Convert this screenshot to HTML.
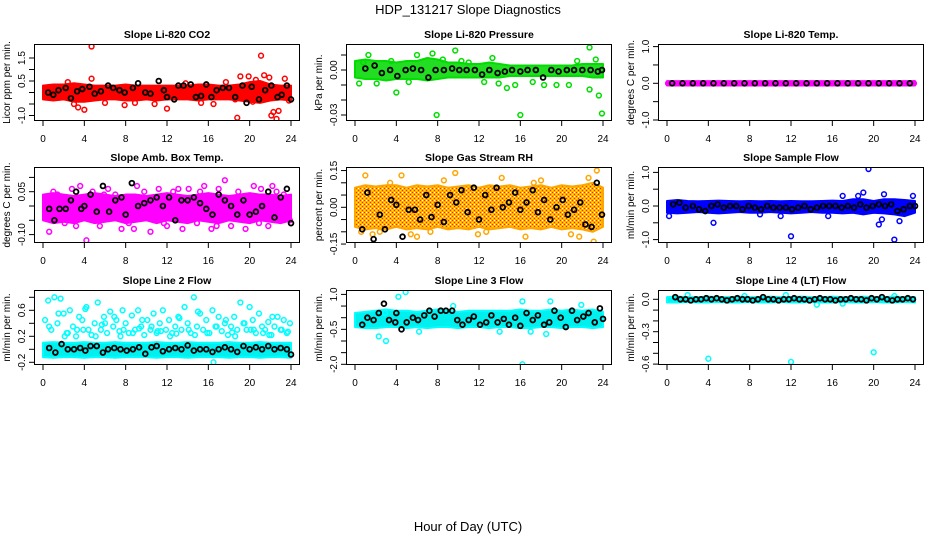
<!DOCTYPE html>
<html><head><meta charset="utf-8"><style>
html,body{margin:0;padding:0;background:#fff;}
svg{display:block;font-family:"Liberation Sans",Arial,sans-serif;}
</style></head><body>
<svg id="chart" width="936" height="540" viewBox="0 0 936 540" xmlns="http://www.w3.org/2000/svg">
<defs>
<pattern id="rh-pattern" width="4" height="4" patternUnits="userSpaceOnUse">
<rect width="4" height="4" fill="#ffb000"/>
<rect x="0" y="0" width="1" height="1" fill="#ff2200"/>
<rect x="2" y="2" width="1" height="1" fill="#ff2200"/>
<rect x="2" y="0" width="1" height="1" fill="#ffffff"/>
<rect x="0" y="2" width="1" height="1" fill="#ffee00"/>
</pattern>
</defs>
<text x="468" y="14" text-anchor="middle" font-size="13">HDP_131217  Slope Diagnostics</text>
<text x="468" y="531" text-anchor="middle" font-size="13">Hour of Day (UTC)</text>
</svg>
<script>
const bandHours=[0,1,2,3,4,5,6,7,8,9,10,11,12,13,14,15,16,17,18,19,20,21,22,23,24];
const xTickVals=[0,4,8,12,16,20,24];
const xTickLabels=["0","4","8","12","16","20","24"];

// Panel 1 CO2
const p1BandLo=[-0.3,-0.35,-0.3,-0.4,-0.4,-0.35,-0.3,-0.3,-0.35,-0.35,-0.3,-0.35,-0.3,-0.3,-0.3,-0.35,-0.3,-0.3,-0.3,-0.35,-0.4,-0.45,-0.35,-0.3,-0.35];
const p1BandHi=[0.3,0.35,0.35,0.4,0.35,0.3,0.3,0.3,0.35,0.3,0.3,0.3,0.3,0.3,0.3,0.35,0.35,0.3,0.3,0.35,0.45,0.5,0.35,0.3,0.3];
const p1OutX=[4.7,21.1,18.8,22.1,22.6,22.3,22.8,19.1,19.9,20.6,21.4,21.9,23.4,4.0,3.4,10.8,12.0,16.5,4.7,3.0,7.9,8.9,20.3,18.6,15.3,2.4,6.0,13.8,17.7,23.8];
const p1OutY=[2.0,1.6,-1.1,-1.0,-1.15,-0.85,-0.8,0.7,0.7,0.55,0.75,0.65,0.6,-0.75,-0.65,-0.5,-0.7,-0.5,0.6,-0.5,-0.55,-0.45,-0.4,-0.3,-0.45,0.45,-0.45,0.4,0.45,-0.35];
const p1BlkX=[0.5,1.0,1.5,2.2,2.7,3.3,3.8,4.5,5.0,5.6,6.3,6.8,7.4,7.9,8.7,9.2,9.9,10.4,11.2,11.7,12.0,12.7,13.1,13.6,14.3,14.8,15.3,15.8,16.3,16.8,17.4,18.0,18.6,19.3,19.7,20.2,20.9,21.5,22.1,22.7,23.1,23.6,24.0];
const p1BlkY=[0,-0.1,0.1,0.2,-0.25,0.05,0.15,0.25,-0.05,0.05,0.3,0.2,0.1,0,0.2,0.4,0,-0.05,0.5,0.1,-0.2,-0.3,0.3,0.3,0.35,-0.2,-0.15,0.35,-0.2,0.1,0.2,0.2,-0.2,0.3,-0.45,0.25,-0.3,0.1,0.3,-0.2,-0.1,0.3,-0.3];
const p1TickVals=[-1,-0.5,0,0.5,1,1.5];
const p1TickLabels=["-1.0","","","0.5","","1.5"];

// Panel 2 Pressure
const p2BandLo=[-0.005,-0.006,-0.006,-0.007,-0.006,-0.006,-0.006,-0.007,-0.006,-0.005,-0.005,-0.005,-0.005,-0.005,-0.005,-0.004,-0.004,-0.004,-0.004,-0.004,-0.004,-0.004,-0.004,-0.005,-0.005];
const p2BandHi=[0.006,0.007,0.006,0.006,0.005,0.006,0.006,0.008,0.007,0.005,0.005,0.004,0.004,0.005,0.004,0.003,0.003,0.003,0.003,0.003,0.003,0.003,0.004,0.004,0.004];
const p2OutX=[7.9,16.0,23.9,9.7,1.3,22.7,23.3,13.3,6.0,7.5,2.1,4.0,12.5,14.7,15.5,18.3,19.5,20.7,22.7,23.6,3.5,8.5,11.0,0.4,5.2,10.3,17.2,21.5,13.9,0.8];
const p2OutY=[-0.03,-0.03,-0.029,0.013,0.01,0.015,0.007,0.008,0.01,0.011,-0.009,-0.015,-0.008,-0.012,-0.01,-0.01,-0.01,-0.01,-0.013,-0.017,0.006,0.007,0.005,-0.009,-0.008,0.006,-0.008,0.006,-0.009,0.005];
const p2BlkX=[1.0,1.9,2.6,3.4,4.1,4.9,5.6,6.4,7.1,7.8,8.6,9.4,10.1,10.8,11.6,12.3,13.0,13.8,14.5,15.2,16.0,16.7,17.5,18.2,19.0,19.7,20.5,21.2,22.0,22.8,23.5,23.9];
const p2BlkY=[0.001,0.003,-0.002,0,-0.004,0,0.001,0,-0.005,0,0,0.001,0,0,0,-0.003,0,-0.002,-0.001,0,-0.001,0,0,-0.005,0,-0.001,0,0,0,0,-0.001,0];
const p2TickVals=[-0.03,-0.02,-0.01,0,0.01];
const p2TickLabels=["-0.03","","","0.00",""];

// Panel 3 Temp
const p3BandLo=[-0.06,-0.06,-0.06,-0.06,-0.06,-0.06,-0.06,-0.06,-0.06,-0.06,-0.06,-0.06,-0.06,-0.06,-0.06,-0.06,-0.06,-0.06,-0.06,-0.06,-0.06,-0.06,-0.06,-0.06,-0.06];
const p3BandHi=[0.06,0.06,0.06,0.06,0.06,0.06,0.06,0.06,0.06,0.06,0.06,0.06,0.06,0.06,0.06,0.06,0.06,0.06,0.06,0.06,0.06,0.06,0.06,0.06,0.06];
const p3OutX=[0.1,23.9];
const p3OutY=[0,0];
const p3BlkX=[0.5,1.5,2.5,3.5,4.5,5.5,6.5,7.5,8.5,9.5,10.5,11.5,12.5,13.5,14.5,15.5,16.5,17.5,18.5,19.5,20.5,21.5,22.5,23.5];
const p3BlkY=[0,0,0,0,0,0,0,0,0,0,0,0,0,0,0,0,0,0,0,0,0,0,0,0];
const p3TickVals=[-1,-0.5,0,0.5,1];
const p3TickLabels=["-1.0","","0.0","","1.0"];

// Panel 4 Amb box temp
const p4BandLo=[-0.05,-0.06,-0.055,-0.06,-0.05,-0.06,-0.055,-0.05,-0.06,-0.055,-0.05,-0.06,-0.05,-0.055,-0.06,-0.05,-0.055,-0.06,-0.05,-0.055,-0.06,-0.05,-0.055,-0.06,-0.05];
const p4BandHi=[0.04,0.045,0.04,0.035,0.04,0.045,0.04,0.035,0.04,0.04,0.035,0.04,0.045,0.04,0.035,0.04,0.045,0.04,0.035,0.04,0.045,0.04,0.04,0.035,0.04];
const p4OutX=[0.2,0.6,1.4,2.1,2.8,3.6,4.2,4.8,5.5,6.3,7.0,7.6,8.3,9.1,9.8,10.4,11.2,12.0,12.6,13.5,14.1,14.9,15.6,16.3,17.0,17.6,18.2,18.9,19.6,20.4,21.1,21.8,22.6,23.3,23.9,1.0,3.2,5.9,8.8,11.7,13.1,15.2,16.8,19.0,20.9,22.2];
const p4OutY=[0.03,-0.09,0.04,-0.06,0.06,0.07,-0.12,0.05,-0.07,0.06,0.04,-0.08,-0.06,0.07,0.05,-0.09,0.06,-0.07,0.05,-0.08,0.06,-0.06,0.07,-0.08,0.06,0.09,-0.07,0.05,-0.08,0.07,0.06,-0.07,0.05,0.04,-0.05,0.05,-0.07,0.04,-0.08,-0.06,0.06,0.05,-0.07,0.03,-0.06,0.07];
const p4BlkX=[0.6,1.1,1.6,2.2,2.7,3.2,3.7,4.0,4.6,5.2,5.8,6.4,7.0,7.6,8.0,8.6,9.2,9.8,10.4,11.0,11.6,12.2,12.8,13.4,14.0,14.6,15.2,15.8,16.4,17.0,17.6,18.2,18.8,19.4,20.0,20.6,21.2,21.8,22.4,23.0,23.6,24.0];
const p4BlkY=[-0.01,-0.05,-0.01,-0.01,0.02,0.05,-0.01,0,0.04,-0.02,0.07,-0.02,0.02,0.03,-0.03,0.08,0,0.01,0.02,0.03,0,0.03,-0.05,0.02,0.02,0.03,0.01,-0.01,-0.03,0.04,0.02,0,-0.03,0.02,-0.03,-0.02,0,0.05,-0.04,0.03,0.06,-0.06];
const p4TickVals=[-0.1,-0.05,0,0.05,0.1];
const p4TickLabels=["-0.10","","","0.05",""];

// Panel 5 Gas stream RH
const p5BandLo=[-0.08,-0.09,-0.085,-0.09,-0.08,-0.09,-0.085,-0.09,-0.08,-0.09,-0.085,-0.09,-0.08,-0.09,-0.085,-0.08,-0.09,-0.085,-0.09,-0.08,-0.09,-0.085,-0.09,-0.1,-0.08];
const p5BandHi=[0.08,0.09,0.085,0.09,0.09,0.08,0.09,0.085,0.09,0.08,0.085,0.09,0.08,0.09,0.085,0.09,0.08,0.085,0.09,0.08,0.09,0.085,0.09,0.1,0.08];
const p5OutX=[1.0,4.5,9.7,23.4,23.1,2.4,1.7,6.0,7.3,11.9,14.2,16.5,18.0,20.9,22.6,0.6,3.4,8.6,12.7,17.3,21.7,5.4];
const p5OutY=[0.13,0.13,0.14,0.15,-0.14,-0.1,-0.11,-0.12,-0.1,-0.11,0.12,-0.12,0.11,-0.11,0.12,-0.1,0.1,0.11,-0.1,0.1,-0.12,-0.11];
const p5BlkX=[0.7,1.2,1.8,2.4,2.9,3.5,4.0,4.6,5.2,5.8,6.3,6.9,7.4,8.0,8.6,9.2,9.8,10.3,10.9,11.5,12.0,12.6,13.2,13.7,14.3,14.9,15.5,16.0,16.6,17.2,17.7,18.3,18.9,19.5,20.1,20.6,21.2,21.8,22.3,22.9,23.4,23.9];
const p5BlkY=[-0.09,0.06,-0.13,-0.03,-0.09,0.03,0.01,-0.12,-0.01,-0.01,-0.05,0.05,-0.04,0.01,-0.06,0.05,0.02,0.07,-0.02,0.08,-0.05,0.05,-0.01,0.08,0,0.02,0.06,-0.01,0.02,0.07,-0.02,0.03,-0.05,0,0.03,-0.03,-0.01,0.02,-0.07,-0.08,0.1,-0.03];
const p5TickVals=[-0.15,-0.1,-0.05,0,0.05,0.1,0.15];
const p5TickLabels=["-0.15","","","0.00","","","0.15"];

// Panel 6 Sample flow
const p6BandLo=[-0.2,-0.22,-0.2,-0.18,-0.2,-0.22,-0.2,-0.18,-0.2,-0.2,-0.18,-0.2,-0.22,-0.2,-0.18,-0.2,-0.2,-0.22,-0.2,-0.25,-0.2,-0.22,-0.25,-0.3,-0.2];
const p6BandHi=[0.15,0.18,0.15,0.14,0.15,0.16,0.15,0.14,0.15,0.14,0.15,0.14,0.15,0.14,0.14,0.15,0.16,0.15,0.2,0.2,0.15,0.2,0.2,0.18,0.15];
const p6OutX=[19.5,12.0,22.0,20.5,19.0,21.0,4.5,17.0,11.0,9.0,0.2,22.5,23.8,18.5,20.8,15.6];
const p6OutY=[1.1,-0.9,-1.0,-0.55,0.4,0.35,-0.5,0.3,-0.3,-0.25,-0.3,-0.45,0.3,0.3,-0.4,-0.3];
const p6BlkX=[0.6,1.2,1.8,2.5,3.1,3.7,4.3,4.9,5.5,6.1,6.7,7.3,7.9,8.5,9.1,9.7,10.3,10.9,11.5,12.1,12.7,13.3,13.9,14.5,15.1,15.7,16.3,16.9,17.5,18.1,18.7,19.3,19.9,20.5,21.1,21.7,22.3,22.9,23.5,24.0];
const p6BlkY=[0.05,0.1,-0.05,0,-0.1,-0.15,0,0.05,-0.05,0,0,-0.1,0,-0.05,-0.1,0,-0.05,-0.05,-0.05,-0.1,-0.05,0,-0.1,-0.05,0,0,0,-0.05,0,-0.05,0.05,-0.05,0,0.05,0,0.05,-0.15,-0.1,0,0];
const p6TickVals=[-1,-0.5,0,0.5,1];
const p6TickLabels=["-1.0","","0.0","","1.0"];

// Panel 7 Line 2 flow
const p7BandLo=[-0.12,-0.13,-0.12,-0.12,-0.13,-0.12,-0.12,-0.13,-0.12,-0.12,-0.12,-0.13,-0.12,-0.12,-0.13,-0.12,-0.12,-0.12,-0.13,-0.12,-0.12,-0.13,-0.12,-0.12,-0.13];
const p7BandHi=[0.1,0.11,0.1,0.1,0.11,0.1,0.1,0.11,0.1,0.1,0.1,0.11,0.1,0.1,0.11,0.1,0.1,0.1,0.11,0.1,0.1,0.11,0.1,0.1,0.1];
const p7OutX=[0.2,0.5,0.8,1.1,1.4,1.7,2.0,2.3,2.6,2.9,3.2,3.5,3.8,4.1,4.4,4.7,5.0,5.3,5.6,5.9,6.2,6.5,6.8,7.1,7.4,7.7,8.0,8.3,8.6,8.9,9.2,9.5,9.8,10.1,10.4,10.7,11.0,11.3,11.6,11.9,12.2,12.5,12.8,13.1,13.4,13.7,14.0,14.3,14.6,14.9,15.2,15.5,15.8,16.1,16.4,16.7,17.0,17.3,17.6,17.9,18.2,18.5,18.8,19.1,19.4,19.7,20.0,20.3,20.6,20.9,21.2,21.5,21.8,22.1,22.4,22.7,23.0,23.3,23.6,23.9,0.6,1.5,2.4,3.3,4.2,5.1,6.0,6.9,7.8,8.7,9.6,10.5,11.4,12.3,13.2,14.1,15.0,15.9,16.8,17.7,18.6,19.5,20.4,21.3,22.2,23.1,2.1,3.9,5.7,7.5,9.3,11.1,12.9,14.7,16.5,18.3,20.1,21.9,23.7];
const p7OutY=[0.45,0.75,0.3,0.8,0.4,0.78,0.55,0.25,0.6,0.35,0.2,0.5,0.45,0.62,0.3,0.22,0.4,0.72,0.3,0.5,0.25,0.58,0.35,0.45,0.28,0.6,0.4,0.25,0.52,0.3,0.6,0.35,0.22,0.45,0.3,0.55,0.25,0.4,0.6,0.3,0.45,0.25,0.35,0.5,0.3,0.65,0.4,0.25,0.8,0.35,0.55,0.3,0.45,0.25,0.6,0.35,0.5,0.28,0.4,0.22,0.35,0.5,0.3,0.72,0.4,0.3,0.65,0.45,0.25,0.55,0.35,0.3,0.42,0.22,0.35,0.5,0.3,0.45,0.25,0.4,0.35,0.55,0.25,0.3,0.65,0.2,0.4,0.5,0.3,0.25,0.45,0.35,0.28,0.2,0.48,0.3,0.58,0.25,0.35,0.45,0.2,0.4,0.3,0.25,0.5,0.3,0.2,0.3,0.38,0.2,0.32,0.28,0.24,0.22,-0.2,0.26,0.3,0.22,0.27];
const p7BlkX=[0.6,1.2,1.8,2.4,3.0,3.6,4.1,4.6,5.2,5.8,6.3,6.9,7.5,8.1,8.7,9.3,9.9,10.5,11.0,11.6,12.2,12.8,13.4,14.0,14.6,15.2,15.8,16.4,17.0,17.6,18.2,18.8,19.4,20.0,20.6,21.2,21.8,22.4,23.0,23.6,24.0];
const p7BlkY=[0.02,-0.05,0.08,0,0,0.02,-0.02,0.05,0.05,-0.05,0,0.02,0,-0.02,0,0.03,-0.07,0.03,0.05,-0.03,0,0.02,0,0.06,-0.02,0,0,-0.04,0,0.03,0,-0.04,0.05,0,0.03,0,0.05,0,0.02,0,-0.08];
const p7TickVals=[-0.2,0,0.2,0.4,0.6,0.8];
const p7TickLabels=["-0.2","","0.2","","0.6",""];

// Panel 8 Line 3 flow
const p8BandLo=[-0.4,-0.45,-0.45,-0.4,-0.4,-0.45,-0.4,-0.45,-0.4,-0.4,-0.45,-0.4,-0.4,-0.45,-0.4,-0.4,-0.45,-0.45,-0.4,-0.4,-0.45,-0.4,-0.4,-0.45,-0.4];
const p8BandHi=[0.2,0.25,0.3,0.35,0.3,0.3,0.25,0.3,0.35,0.3,0.25,0.3,0.3,0.3,0.3,0.3,0.35,0.3,0.3,0.35,0.3,0.35,0.3,0.35,0.25];
const p8OutX=[16.2,4.9,4.2,2.9,16.2,18.9,2.3,3.0,17.0,18.5,9.5,21.9,6.2,14.0];
const p8OutY=[-2.0,1.1,0.9,0.2,0.7,0.7,-0.8,-1.0,-0.6,-0.7,0.5,0.55,-0.6,-0.6];
const p8BlkX=[0.7,1.2,1.8,2.3,2.8,3.3,3.9,4.0,4.5,5.0,5.6,6.1,6.7,7.2,7.7,8.3,8.8,9.4,9.9,10.4,11.0,11.5,12.1,12.7,13.2,13.8,14.4,14.9,15.5,16.0,16.6,17.2,17.7,18.3,18.8,19.3,19.9,20.4,21.0,21.5,22.1,22.6,23.2,23.7,24.0];
const p8BlkY=[-0.3,0,-0.1,0.2,0.6,-0.1,-0.2,0.2,-0.5,-0.2,0,-0.1,0.1,0.3,0.05,0.3,0.3,0.3,-0.1,-0.3,-0.1,0.05,-0.3,-0.2,0.1,-0.2,-0.05,-0.3,0,-0.35,0.2,-0.1,0.1,-0.3,-0.2,0.3,0,-0.4,0.3,-0.1,0.05,0.2,-0.2,0.4,-0.05];
const p8TickVals=[-2,-1.5,-1,-0.5,0,0.5,1];
const p8TickLabels=["-2.0","","","-0.5","","","1.0"];

// Panel 9 Line 4 flow
const p9BandLo=[-0.03,-0.03,-0.025,-0.03,-0.03,-0.025,-0.03,-0.03,-0.025,-0.03,-0.03,-0.025,-0.03,-0.03,-0.025,-0.03,-0.03,-0.025,-0.03,-0.03,-0.025,-0.03,-0.03,-0.025,-0.03];
const p9BandHi=[0.02,0.025,0.02,0.02,0.025,0.02,0.02,0.025,0.02,0.02,0.025,0.02,0.02,0.025,0.02,0.02,0.025,0.02,0.02,0.025,0.02,0.02,0.025,0.02,0.02];
const p9OutX=[4.0,12.0,20.0,2.0,7.5,11.5,14.5,22.0,17.0];
const p9OutY=[-0.55,-0.58,-0.49,0.04,0.03,0.04,-0.05,0.03,-0.04];
const p9BlkX=[0.8,1.3,1.8,2.3,2.8,3.3,3.8,4.3,4.8,5.3,5.8,6.3,6.8,7.3,7.8,8.3,8.8,9.3,9.8,10.3,10.8,11.3,11.8,12.3,12.8,13.3,13.8,14.3,14.8,15.3,15.8,16.3,16.8,17.3,17.8,18.3,18.8,19.3,19.8,20.3,20.8,21.3,21.8,22.3,22.8,23.3,23.8];
const p9BlkY=[0.02,0,0,-0.01,0,0,0.01,0,0.01,0,-0.01,0,0.01,0,0,-0.01,0,0.02,0,0,-0.01,0,0,0.01,0,0,-0.01,0,0.01,0,0,-0.01,0,0,0.01,0,0,-0.01,0.01,0,0.02,0,-0.01,0,0,0.01,0];
const p9TickVals=[-0.6,-0.5,-0.4,-0.3,-0.2,-0.1,0];
const p9TickLabels=["-0.6","","","-0.3","","","0.0"];

const NS="http://www.w3.org/2000/svg";
const svg=document.getElementById('chart');
function mk(tag,attrs,parent){const e=document.createElementNS(NS,tag);for(const k in attrs)e.setAttribute(k,attrs[k]);(parent||svg).appendChild(e);return e;}

const panels=[
 {key:'co2',title:'Slope Li-820 CO2',ytitle:'Licor ppm per min.',col:0,top:44,bot:121,vref:0.5,yref:81,ppu:23,color:'#ff0000',band:'#ff0000',lo:p1BandLo,hi:p1BandHi,ox:p1OutX,oy:p1OutY,bx:p1BlkX,by:p1BlkY,tv:p1TickVals,tl:p1TickLabels},
 {key:'pressure',title:'Slope Li-820 Pressure',ytitle:'kPa per min.',col:1,top:44,bot:121,vref:0,yref:70,ppu:1500,color:'#00dd00',band:'#22dd22',lo:p2BandLo,hi:p2BandHi,ox:p2OutX,oy:p2OutY,bx:p2BlkX,by:p2BlkY,tv:p2TickVals,tl:p2TickLabels},
 {key:'temp',title:'Slope Li-820 Temp.',ytitle:'degrees C per min.',col:2,top:44,bot:121,vref:0,yref:83.3,ppu:36.7,color:'#ff00ff',band:'#ff00ff',lo:p3BandLo,hi:p3BandHi,ox:p3OutX,oy:p3OutY,bx:p3BlkX,by:p3BlkY,tv:p3TickVals,tl:p3TickLabels},
 {key:'amb-box-temp',title:'Slope Amb. Box Temp.',ytitle:'degrees C per min.',col:0,top:167,bot:243,vref:0,yref:206,ppu:286,color:'#ff00ff',band:'#ff00ff',lo:p4BandLo,hi:p4BandHi,ox:p4OutX,oy:p4OutY,bx:p4BlkX,by:p4BlkY,tv:p4TickVals,tl:p4TickLabels},
 {key:'gas-rh',title:'Slope Gas Stream RH',ytitle:'percent per min.',col:1,top:167,bot:243,vref:0,yref:207.3,ppu:245,color:'#ffa500',band:'url(#rh-pattern)',lo:p5BandLo,hi:p5BandHi,ox:p5OutX,oy:p5OutY,bx:p5BlkX,by:p5BlkY,tv:p5TickVals,tl:p5TickLabels},
 {key:'sample-flow',title:'Slope Sample Flow',ytitle:'ml/min per min.',col:2,top:167,bot:243,vref:0,yref:206,ppu:33.6,color:'#0000ff',band:'#0000ff',lo:p6BandLo,hi:p6BandHi,ox:p6OutX,oy:p6OutY,bx:p6BlkX,by:p6BlkY,tv:p6TickVals,tl:p6TickLabels},
 {key:'line2-flow',title:'Slope Line 2 Flow',ytitle:'ml/min per min.',col:0,top:290,bot:365,vref:0,yref:349.3,ppu:65,color:'#00ffff',band:'#00f0f0',lo:p7BandLo,hi:p7BandHi,ox:p7OutX,oy:p7OutY,bx:p7BlkX,by:p7BlkY,tv:p7TickVals,tl:p7TickLabels},
 {key:'line3-flow',title:'Slope Line 3 Flow',ytitle:'ml/min per min.',col:1,top:290,bot:365,vref:0,yref:317.7,ppu:23.3,color:'#00ffff',band:'#00f0f0',lo:p8BandLo,hi:p8BandHi,ox:p8OutX,oy:p8OutY,bx:p8BlkX,by:p8BlkY,tv:p8TickVals,tl:p8TickLabels},
 {key:'line4-flow',title:'Slope Line 4 (LT) Flow',ytitle:'ml/min per min.',col:2,top:290,bot:365,vref:0,yref:299.3,ppu:108,color:'#00ffff',band:'#00f0f0',lo:p9BandLo,hi:p9BandHi,ox:p9OutX,oy:p9OutY,bx:p9BlkX,by:p9BlkY,tv:p9TickVals,tl:p9TickLabels}
];

panels.forEach(p=>{
 const x0=34+312*p.col, x1=300+312*p.col;
 const xs=h=>x0+9+h*(248/24);
 const ys=v=>p.yref+(p.vref-v)*p.ppu;
 const g=mk('g',{});
 
 
 const t=mk('text',{x:(x0+x1)/2,y:p.top-6,'text-anchor':'middle','font-size':'10.5','font-weight':'bold'},g);
 
 
 t.textContent=p.title;
 const clip=mk('clipPath',{id:'clip-'+p.key},g);
 mk('rect',{x:x0,y:p.top,width:x1-x0,height:p.bot-p.top},clip);
 const plot=mk('g',{'clip-path':'url(#clip-'+p.key+')'},g);
 
 
 let pts=[];
 bandHours.forEach((h,i)=>pts.push(xs(h)+','+ys(p.hi[i])));
 for(let i=bandHours.length-1;i>=0;i--)pts.push(xs(bandHours[i])+','+ys(p.lo[i]));
 const band=mk('polygon',{points:pts.join(' '),fill:p.band,stroke:p.color,'stroke-width':'2','stroke-linejoin':'round'},plot);
 
 
 p.ox.forEach((h,i)=>{
  const c=mk('circle',{cx:xs(h),cy:ys(p.oy[i]),r:2.4,fill:'none',stroke:p.color,'stroke-width':'1.5'},plot);
  
  
 });
 p.bx.forEach((h,i)=>{
  const c=mk('circle',{cx:xs(h),cy:ys(p.by[i]),r:2.4,fill:'none',stroke:'#000','stroke-width':'1.8'},plot);
  
  
 });
 const box=mk('rect',{x:x0+0.5,y:p.top+0.5,width:x1-x0-1,height:p.bot-p.top-1,fill:'none',stroke:'#000','stroke-width':'1'},g);
 
 
 xTickVals.forEach((v,i)=>{
  const x=xs(v);
  mk('line',{x1:x,x2:x,y1:p.bot,y2:p.bot+5,stroke:'#000','stroke-width':'1'},g);
  const l=mk('text',{x:x,y:p.bot+21,'text-anchor':'middle','font-size':'10'},g);
  
  
  l.textContent=xTickLabels[i];
 });
 p.tv.forEach((v,i)=>{
  const y=ys(v);
  mk('line',{x1:x0-5,x2:x0,y1:y,y2:y,stroke:'#000','stroke-width':'1'},g);
  if(p.tl[i]){
   const l=mk('text',{x:0,y:0,'text-anchor':'middle','font-size':'10',transform:'translate('+(x0-9)+','+y+') rotate(-90)'},g);
   
   
   l.textContent=p.tl[i];
  }
 });
 const yt=mk('text',{x:0,y:0,'text-anchor':'middle','font-size':'10',transform:'translate('+(x0-24)+','+((p.top+p.bot)/2)+') rotate(-90)'},g);
 
 
 yt.textContent=p.ytitle;
});
</script>
</body></html>
